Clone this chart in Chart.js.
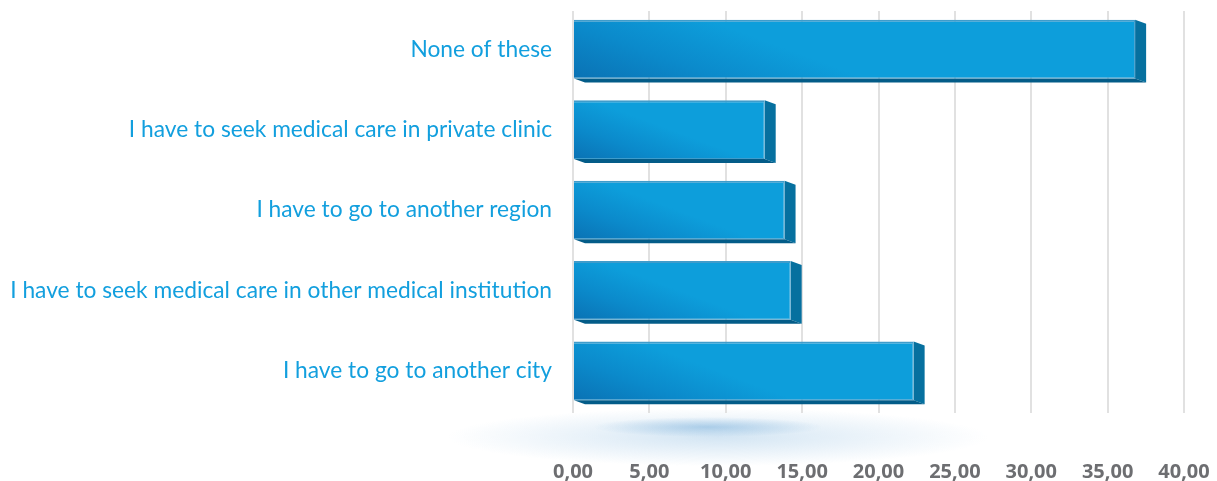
<!DOCTYPE html>
<html>
<head>
<meta charset="utf-8">
<title>Chart</title>
<style>
  html, body { margin: 0; padding: 0; background: #fff; }
  canvas { display: block; }
</style>
<script src="https://cdn.jsdelivr.net/npm/chart.js@4/dist/chart.umd.min.js"></script>
</head>
<body>
<canvas id="barChart" width="1217" height="481"></canvas>
<script>
const categories = [
  'None of these',
  'I have to seek medical care in private clinic',
  'I have to go to another region',
  'I have to seek medical care in other medical institution',
  'I have to go to another city'
];
const values = [36.8, 12.55, 13.85, 14.25, 22.3];
const tickLabels = ['0,00', '5,00', '10,00', '15,00', '20,00', '25,00', '30,00', '35,00', '40,00'];

const DEPTH_X = 11;
const DEPTH_Y = 4;

function frontGradient(context) {
  const { scales, ctx } = context.chart;
  const i = context.dataIndex;
  const x0 = scales.x.getPixelForValue(0);
  const x1 = scales.x.getPixelForValue(values[i]);
  const yMid = scales.y.getPixelForValue(i);
  // scales have no pixels yet on the first pass
  if (!isFinite(x0) || !isFinite(x1) || !isFinite(yMid)) return '#0c9edc';
  // dark corner bottom left, runs out up and to the right, longer on long bars
  const len = 40 + (x1 - x0) * 0.11;
  const g = ctx.createLinearGradient(x0, yMid + 29, x0 + len * 0.35, yMid + 29 - len * 0.94);
  g.addColorStop(0, '#0a72b4');
  g.addColorStop(0.5, '#0b8acb');
  g.addColorStop(1, '#0d9edb');
  return g;
}

function noScalePadding(scale) {
  scale.paddingTop = scale.paddingBottom = scale.paddingLeft = scale.paddingRight = 0;
}

function ellipse(ctx, cx, cy, rx, ry, color) {
  ctx.save();
  ctx.translate(cx, cy);
  ctx.scale(rx, ry);
  const g = ctx.createRadialGradient(0, 0, 0, 0, 0, 1);
  g.addColorStop(0, color);
  g.addColorStop(1, color.replace(/[\d.]+\)$/, '0)'));
  ctx.fillStyle = g;
  ctx.beginPath();
  ctx.arc(0, 0, 1, 0, Math.PI * 2);
  ctx.fill();
  ctx.restore();
}

// soft shadow under the chart and the extruded bar sides
const decorations = {
  id: 'decorations',
  beforeDraw(chart) {
    const ctx = chart.ctx;
    const area = chart.chartArea;
    ellipse(ctx, area.left + 145, area.bottom + 26, 270, 29, 'rgba(175,208,234,0.55)');
    ellipse(ctx, area.left + 135, area.bottom + 16, 115, 10, 'rgba(125,178,220,0.55)');
  },
  beforeDatasetsDraw(chart) {
    const ctx = chart.ctx;
    const area = chart.chartArea;
    // grid lines start a little below the top of the plot
    ctx.fillStyle = '#fff';
    ctx.fillRect(area.left - 2, area.top - 1, area.width + 4, 3);
    chart.getDatasetMeta(0).data.forEach(el => {
      const top = el.y - el.height / 2;
      const bottom = el.y + el.height / 2;
      ctx.fillStyle = '#06709f';
      ctx.beginPath();
      ctx.moveTo(el.x, top);
      ctx.lineTo(el.x + DEPTH_X, top + DEPTH_Y);
      ctx.lineTo(el.x + DEPTH_X, bottom + DEPTH_Y);
      ctx.lineTo(el.x, bottom);
      ctx.closePath();
      ctx.fill();
      ctx.fillStyle = '#035c88';
      ctx.beginPath();
      ctx.moveTo(el.base, bottom);
      ctx.lineTo(el.base + DEPTH_X, bottom + DEPTH_Y);
      ctx.lineTo(el.x + DEPTH_X, bottom + DEPTH_Y);
      ctx.lineTo(el.x, bottom);
      ctx.closePath();
      ctx.fill();
    });
  }
};

new Chart(document.getElementById('barChart'), {
  type: 'bar',
  data: {
    labels: categories,
    datasets: [{
      data: values,
      backgroundColor: frontGradient,
      borderColor: '#3f9ccb',
      borderWidth: { top: 2, bottom: 1, right: 1, left: 0 },
      borderSkipped: false,
      categoryPercentage: 1,
      barPercentage: 0.73
    }]
  },
  options: {
    indexAxis: 'y',
    responsive: false,
    animation: false,
    layout: { padding: { top: 9, right: 33, left: 0, bottom: 0 } },
    plugins: { legend: { display: false }, tooltip: { enabled: false } },
    scales: {
      x: {
        position: 'bottom',
        min: 0,
        max: 40,
        afterBuildTicks(scale) {
          scale.ticks = tickLabels.map((t, i) => ({ value: i * 5 }));
        },
        afterFit(scale) { scale.height = 70; noScalePadding(scale); },
        grid: { color: '#e1e1e1', lineWidth: 2, tickLength: 2 },
        border: { display: false },
        ticks: {
          autoSkip: false,
          maxRotation: 0,
          padding: 47,
          color: '#6d6e71',
          font: { family: '"Open Sans"', size: 20, weight: 'bold' },
          callback: (v, i) => tickLabels[i]
        }
      },
      y: {
        afterFit(scale) { scale.width = 573; noScalePadding(scale); },
        grid: { display: false },
        border: { display: false },
        ticks: {
          padding: 13,
          color: '#129fde',
          font: { family: 'Lato', size: 22.75 }
        }
      }
    }
  },
  plugins: [decorations]
});
</script>
</body>
</html>
